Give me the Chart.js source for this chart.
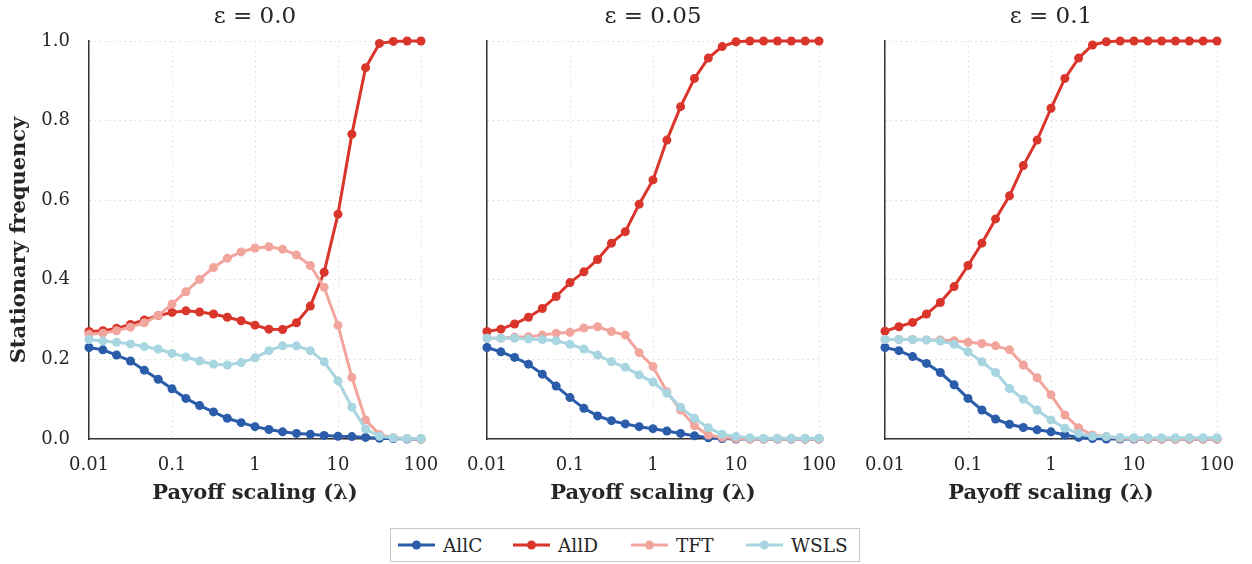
<!DOCTYPE html>
<html>
<head>
<meta charset="utf-8">
<script src="https://cdn.jsdelivr.net/npm/chart.js@4.4.0/dist/chart.umd.min.js"></script>
<style>
html, body { margin: 0; padding: 0; background: #ffffff; }
body { width: 1252px; height: 564px; position: relative; overflow: hidden; font-family: 'DejaVu Serif', serif; }
canvas { position: absolute; top: 0; }
#legend { position: absolute; left: 390px; top: 528px; width: 468px; height: 32px; border: 1px solid #c8c8c8; }
.item { position: absolute; top: 0; height: 32px; display: flex; align-items: center; font-size: 18.5px; color: #262626; white-space: nowrap; }
.item svg { margin-right: 8px; }
</style>
</head>
<body>
<canvas id="c0" width="441" height="506" style="left:0px"></canvas>
<canvas id="c1" width="441" height="506" style="left:398px"></canvas>
<canvas id="c2" width="441" height="506" style="left:796px"></canvas>
<div id="legend"></div>
<script>
// ---- data ----
const lambdas = [0.01, 0.0147, 0.0215, 0.0316, 0.0464, 0.0681, 0.1, 0.147, 0.215, 0.316, 0.464, 0.681,
                 1, 1.47, 2.15, 3.16, 4.64, 6.81, 10, 14.7, 21.5, 31.6, 46.4, 68.1, 100];
const strategyNames = ['AllC', 'AllD', 'TFT', 'WSLS'];
const panelTitles = ['\u03B5 = 0.0', '\u03B5 = 0.05', '\u03B5 = 0.1'];
const xTickValues = [0.01, 0.1, 1, 10, 100];
const xTickLabels = ['0.01', '0.1', '1', '10', '100'];
const yTickValues = [0, 0.2, 0.4, 0.6, 0.8, 1.0];
const yTickLabels = ['0.0', '0.2', '0.4', '0.6', '0.8', '1.0'];

// epsilon = 0.0
const allC_eps0 = [0.230, 0.224, 0.211, 0.196, 0.173, 0.150, 0.126, 0.102, 0.084, 0.068, 0.052, 0.041, 0.031, 0.024, 0.018, 0.014, 0.012, 0.009, 0.007, 0.006, 0.004, 0.002, 0.001, 0.000, 0.000];
const allD_eps0 = [0.270, 0.272, 0.278, 0.288, 0.299, 0.310, 0.318, 0.322, 0.319, 0.314, 0.306, 0.297, 0.286, 0.276, 0.275, 0.292, 0.334, 0.419, 0.565, 0.766, 0.933, 0.994, 0.999, 1.000, 1.000];
const tft_eps0  = [0.263, 0.266, 0.272, 0.281, 0.292, 0.310, 0.339, 0.370, 0.401, 0.431, 0.454, 0.470, 0.480, 0.483, 0.477, 0.462, 0.436, 0.381, 0.286, 0.155, 0.048, 0.011, 0.003, 0.001, 0.000];
const wsls_eps0 = [0.250, 0.246, 0.243, 0.239, 0.232, 0.226, 0.215, 0.206, 0.196, 0.188, 0.186, 0.192, 0.204, 0.222, 0.234, 0.234, 0.222, 0.194, 0.146, 0.080, 0.025, 0.007, 0.003, 0.001, 0.001];

// epsilon = 0.05
const allC_eps05 = [0.230, 0.219, 0.205, 0.188, 0.163, 0.133, 0.104, 0.077, 0.058, 0.046, 0.038, 0.031, 0.026, 0.020, 0.014, 0.008, 0.003, 0.001, 0.000, 0.000, 0.000, 0.000, 0.000, 0.000, 0.000];
const allD_eps05 = [0.270, 0.276, 0.289, 0.306, 0.328, 0.358, 0.393, 0.420, 0.451, 0.492, 0.521, 0.590, 0.651, 0.751, 0.835, 0.906, 0.957, 0.986, 0.998, 1.000, 1.000, 1.000, 1.000, 1.000, 1.000];
const tft_eps05  = [0.253, 0.253, 0.256, 0.257, 0.261, 0.266, 0.268, 0.279, 0.282, 0.270, 0.261, 0.217, 0.182, 0.119, 0.073, 0.033, 0.010, 0.004, 0.001, 0.000, 0.000, 0.000, 0.000, 0.000, 0.000];
const wsls_eps05 = [0.253, 0.253, 0.253, 0.251, 0.250, 0.247, 0.238, 0.226, 0.211, 0.194, 0.180, 0.161, 0.143, 0.115, 0.080, 0.052, 0.028, 0.012, 0.006, 0.003, 0.002, 0.002, 0.002, 0.002, 0.002];

// epsilon = 0.1
const allC_eps1 = [0.230, 0.222, 0.207, 0.190, 0.167, 0.136, 0.102, 0.073, 0.050, 0.037, 0.029, 0.023, 0.018, 0.010, 0.004, 0.001, 0.000, 0.000, 0.000, 0.000, 0.000, 0.000, 0.000, 0.000, 0.000];
const allD_eps1 = [0.271, 0.282, 0.293, 0.314, 0.343, 0.383, 0.436, 0.492, 0.553, 0.611, 0.687, 0.751, 0.831, 0.906, 0.957, 0.990, 0.998, 1.000, 1.000, 1.000, 1.000, 1.000, 1.000, 1.000, 1.000];
const tft_eps1  = [0.250, 0.250, 0.250, 0.249, 0.249, 0.247, 0.243, 0.240, 0.234, 0.224, 0.186, 0.154, 0.111, 0.060, 0.028, 0.010, 0.006, 0.002, 0.001, 0.000, 0.000, 0.000, 0.000, 0.000, 0.000];
const wsls_eps1 = [0.250, 0.250, 0.250, 0.249, 0.246, 0.238, 0.219, 0.194, 0.167, 0.127, 0.100, 0.073, 0.048, 0.027, 0.014, 0.007, 0.006, 0.004, 0.003, 0.003, 0.003, 0.003, 0.003, 0.003, 0.003];

// ---- styles ----
const colors = ['#2a5caa', '#d9352b', '#f2a59d', '#a7d5e0'];
const FONT = 'DejaVu Serif';
const TEXT = '#262626';
const SPINE = '#333333';
const GRID = '#dcdcdc';

function makeChart(id, title, series, showY) {
  return new Chart(document.getElementById(id), {
    type: 'line',
    data: {
      labels: lambdas,
      datasets: strategyNames.map((name, k) => ({
        label: name,
        data: series[k],
        borderColor: colors[k],
        backgroundColor: colors[k],
        borderWidth: 3,
        pointRadius: 4.5,
        pointBorderWidth: 0,
        pointHoverRadius: 4.5,
        tension: 0,
        clip: false,
        order: 4 - k
      }))
    },
    options: {
      responsive: false,
      animation: false,
      devicePixelRatio: 1,
      events: [],
      layout: { padding: { left: 0, right: 20, top: 0, bottom: 0 } },
      plugins: {
        legend: { display: false },
        tooltip: { enabled: false },
        title: {
          display: true, text: title, fullSize: false,
          font: { family: FONT, size: 23, weight: 'normal' }, color: TEXT,
          padding: { top: 3.2, bottom: 10.2 }
        }
      },
      scales: {
        x: {
          type: 'logarithmic', min: 0.01, max: 100,
          afterBuildTicks: s => { s.ticks = xTickValues.map(v => ({ value: v })); },
          afterFit: s => { s.height = 67; s.paddingLeft = 0; s.paddingRight = 0; },
          ticks: {
            callback: (v, i) => xTickLabels[i], padding: 16, autoSkip: false, maxRotation: 0,
            font: { family: FONT, size: 18 }, color: TEXT
          },
          grid: { color: GRID, lineWidth: 1, drawTicks: false },
          border: { display: true, color: SPINE, width: 1.5, dash: [1.5, 3.5] },
          title: {
            display: true, text: 'Payoff scaling (\u03BB)',
            font: { family: FONT, size: 21, weight: 'bold' }, color: TEXT,
            padding: { top: 0, bottom: 0 }
          }
        },
        y: {
          min: 0, max: 1,
          afterBuildTicks: s => { s.ticks = yTickValues.map(v => ({ value: v })); },
          afterFit: s => { s.width = 89; s.paddingTop = 0; s.paddingBottom = 0; },
          ticks: {
            display: showY, callback: (v, i) => yTickLabels[i], padding: 19,
            font: { family: FONT, size: 18 }, color: TEXT
          },
          grid: { color: GRID, lineWidth: 1, drawTicks: false },
          border: { display: true, color: SPINE, width: 1.5, dash: [1.5, 3.5] },
          title: {
            display: showY, text: 'Stationary frequency',
            font: { family: FONT, size: 21, weight: 'bold' }, color: TEXT,
            padding: { top: 7.4, bottom: 0 }
          }
        }
      }
    }
  });
}

makeChart('c0', panelTitles[0], [allC_eps0, allD_eps0, tft_eps0, wsls_eps0], true);
makeChart('c1', panelTitles[1], [allC_eps05, allD_eps05, tft_eps05, wsls_eps05], false);
makeChart('c2', panelTitles[2], [allC_eps1, allD_eps1, tft_eps1, wsls_eps1], false);

// ---- legend (HTML) ----
const legendOffsets = [7, 122, 240, 355];
const legend = document.getElementById('legend');
strategyNames.forEach((name, k) => {
  const item = document.createElement('div');
  item.className = 'item';
  item.style.left = legendOffsets[k] + 'px';
  item.innerHTML = '<svg width="37" height="12"><line x1="0" y1="6" x2="37" y2="6" stroke="' + colors[k] +
    '" stroke-width="3"/><circle cx="18.5" cy="6" r="4.5" fill="' + colors[k] + '"/></svg>';
  const t = document.createElement('span');
  t.textContent = name;
  item.appendChild(t);
  legend.appendChild(item);
});
</script>
</body>
</html>
